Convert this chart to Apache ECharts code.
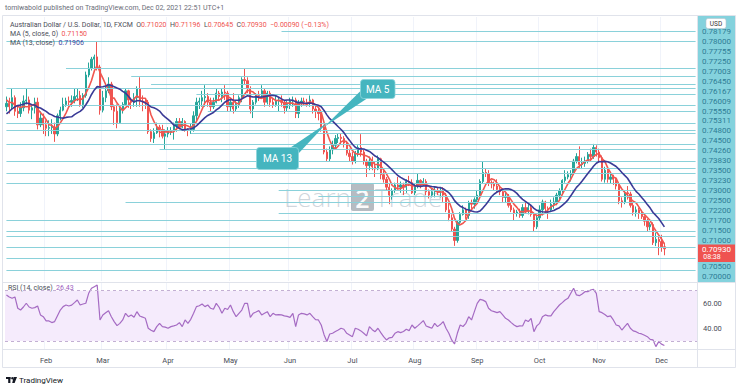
<!DOCTYPE html>
<html>
<head>
<meta charset="utf-8">
<title>AUD/USD 1D</title>
<script src="https://cdn.jsdelivr.net/npm/echarts@6/dist/echarts.min.js"></script>
<style>
html,body{margin:0;padding:0;background:#ffffff;}
#chart{width:740px;height:390px;}
</style>
</head>
<body>
<div id="chart"></div>
<script>
// ---------- data (prices in units of 0.0001 USD) ----------
const opens = [
 7720,7735,7720,7760,7700,7690,7715,7745,7750,7705,7715,7740,7640,7670,
 7640,7625,7628,7630,7600,7680,7705,7730,7745,7740,7748,7765,7770,7730,7770,7860,7890,7930,7940,7895,
 7705,7760,7790,7820,7720,7700,7650,7710,7730,7790,7750,7740,7760,7800,7745,7742,7740,7610,7580,7605,7630,7620,7590,
 7600,7610,7615,7635,7655,7630,7655,7620,7615,7620,7680,7740,7745,7760,7765,7740,7720,7740,7780,7765,7785,7780,
 7720,7740,7710,7730,7760,7840,7835,7800,7710,7740,7775,7770,7790,7740,7780,7740,7730,7745,7750,7740,7715,
 7730,7745,7750,7690,7740,7745,7740,7738,7750,7710,7700,7690,7630,7520,7490,7530,7550,7580,7585,7580,7560,7515,
 7500,7480,7515,7540,7520,7480,7460,7480,7455,7445,7490,7420,7400,7365,7330,7350,7375,7365,7375,7365,7390,7385,
 7340,7370,7395,7385,7390,7345,7330,7345,7350,7345,7350,7330,7265,7230,7180,7130,7210,7245,7265,7240,7295,7290,
 7310,7330,7390,7430,7425,7385,7380,7370,7355,7345,7320,7325,7285,7265,7250,7255,7240,7275,7260,7275,7245,7190,
 7230,7265,7300,7270,7265,7290,7300,7330,7350,7395,7410,7420,7425,7480,7500,7465,7470,7480,7510,7500,7540,
 7520,7495,7400,7440,7400,7410,7400,7370,7305,7300,7340,7335,7285,7255,7265,7250,7235,7215,7190,7200,7120,7135,
 7125,7102
];
const closes = [
 7735,7720,7760,7700,7690,7715,7745,7750,7705,7715,7740,7640,7670,7640,
 7625,7628,7630,7600,7680,7705,7730,7745,7740,7748,7765,7770,7730,7770,7860,7890,7930,7940,7895,7705,
 7760,7790,7820,7720,7700,7650,7710,7730,7790,7750,7740,7760,7800,7745,7742,7740,7610,7580,7605,7630,7620,7590,7600,
 7610,7615,7635,7655,7630,7655,7620,7615,7620,7680,7740,7745,7760,7765,7740,7720,7740,7780,7765,7785,7780,7720,
 7740,7710,7730,7760,7840,7835,7800,7710,7740,7775,7770,7790,7740,7780,7740,7730,7745,7750,7740,7715,7730,
 7745,7750,7690,7740,7745,7740,7738,7750,7710,7700,7690,7630,7520,7490,7530,7550,7580,7585,7580,7560,7515,7500,
 7480,7515,7540,7520,7480,7460,7480,7455,7445,7490,7420,7400,7365,7330,7350,7375,7365,7375,7365,7390,7385,7340,
 7370,7395,7385,7390,7345,7330,7345,7350,7345,7350,7330,7265,7230,7180,7130,7210,7245,7265,7240,7295,7290,7310,
 7330,7390,7430,7425,7385,7380,7370,7355,7345,7320,7325,7285,7265,7250,7255,7240,7275,7260,7275,7245,7190,7230,
 7265,7300,7270,7265,7290,7300,7330,7350,7395,7410,7420,7425,7480,7500,7465,7470,7480,7510,7500,7540,7520,
 7495,7400,7440,7400,7410,7400,7370,7305,7300,7340,7335,7285,7255,7265,7250,7235,7215,7190,7200,7120,7135,7125,
 7102,7093
];
const lows = [
 7700,7690,7710,7680,7670,7675,7700,7730,7690,7665,7690,7620,7630,7600,
 7590,7590,7600,7565,7590,7660,7700,7720,7720,7720,7735,7745,7720,7715,7760,7850,7880,7890,7880,7685,
 7695,7740,7780,7705,7640,7625,7645,7690,7725,7715,7710,7720,7720,7720,7700,7710,7600,7565,7560,7600,7585,7580,7530,
 7585,7595,7575,7610,7620,7625,7610,7590,7600,7610,7660,7710,7720,7720,7720,7700,7710,7735,7745,7740,7750,7700,
 7700,7690,7700,7715,7740,7820,7780,7690,7670,7730,7745,7760,7720,7730,7720,7715,7720,7700,7720,7690,7700,
 7710,7720,7670,7670,7720,7725,7720,7720,7690,7670,7660,7610,7510,7480,7477,7510,7535,7560,7555,7540,7505,7480,
 7465,7470,7500,7500,7465,7410,7440,7440,7410,7440,7400,7385,7350,7290,7310,7340,7355,7340,7330,7340,7370,7335,
 7330,7360,7360,7370,7330,7315,7320,7320,7330,7320,7300,7255,7215,7170,7106,7120,7195,7240,7225,7225,7270,7270,
 7300,7320,7380,7410,7370,7360,7350,7340,7330,7300,7295,7275,7255,7220,7235,7230,7230,7250,7245,7235,7170,7180,
 7215,7240,7250,7225,7255,7270,7285,7310,7340,7385,7400,7390,7420,7470,7450,7445,7455,7470,7480,7490,7500,
 7475,7390,7385,7385,7380,7375,7355,7290,7275,7290,7310,7275,7240,7235,7225,7225,7195,7170,7175,7110,7105,7065,
 7080,7064.5
];
const highs = [
 7765,7760,7800,7770,7720,7740,7770,7800,7765,7730,7760,7760,7700,7690,
 7660,7660,7665,7650,7690,7720,7760,7760,7765,7770,7800,7800,7790,7780,7875,7915,7940,7950,8007,7905,
 7790,7810,7850,7830,7730,7730,7725,7740,7800,7795,7760,7780,7810,7850,7770,7755,7750,7620,7625,7650,7640,7640,7620,
 7630,7630,7650,7670,7670,7670,7660,7625,7645,7700,7760,7760,7790,7815,7780,7760,7760,7800,7790,7800,7815,7790,
 7760,7780,7745,7770,7850,7891,7850,7810,7750,7780,7790,7815,7800,7790,7790,7760,7770,7760,7770,7750,7745,
 7760,7765,7760,7750,7760,7760,7755,7770,7755,7730,7720,7705,7640,7535,7545,7570,7595,7600,7600,7590,7570,7535,
 7520,7525,7550,7599,7530,7490,7500,7500,7480,7505,7495,7440,7410,7380,7360,7385,7410,7390,7385,7400,7415,7400,
 7380,7425,7400,7405,7400,7355,7360,7365,7365,7365,7365,7340,7295,7245,7190,7220,7255,7285,7275,7305,7310,7320,
 7350,7400,7478,7445,7440,7395,7390,7400,7370,7360,7340,7335,7300,7275,7265,7270,7290,7295,7290,7285,7250,7240,
 7285,7310,7305,7280,7310,7320,7340,7360,7400,7440,7435,7440,7490,7515,7545,7495,7500,7520,7535,7556,7550,
 7535,7505,7455,7450,7430,7420,7405,7385,7320,7350,7370,7345,7295,7280,7275,7265,7240,7225,7210,7210,7165,7150,
 7155,7119.6
];
// closes of the 12 sessions before the first visible bar (feed the moving averages)
const warmupCloses = [7580,7600,7590,7620,7680,7700,7680,7740,7780,7760,7760,7720];
const rsiValues = [
 66.6,65,64,65,56,54.6,57,60,57,56,
 56.5,57.8,50.7,49.3,46,45.9,44.6,45.4,50,54.6,
 57.3,58.6,57.8,58.5,60.5,62.6,58.6,59.4,60,67.9,
 71.9,73.2,74.5,46.7,50.7,52.5,54.1,49.3,45.4,42.2,
 44,46.7,52,49.3,50.7,48.8,53.3,49.9,49,48,
 40.1,38.5,37.4,41.4,44,41.4,41,40.1,41.4,42,
 42.7,44.6,41.4,46.7,44,47.2,52,57.3,58,59.4,
 57.3,58.6,56,55.2,59.9,56.8,52,56,55,58.6,
 53.3,49.3,52,54.6,59.9,59.9,48.8,52,53,54.1,
 50.7,52,53.3,49.3,52,50.7,51,50.7,49.9,49.5,
 48.8,52,41.4,50.7,52,51.5,50.7,52,49.3,47,
 46.7,42.7,35,29.5,35.5,36.1,37.5,38.7,40.1,39.3,
 36.1,34.8,33.4,40.1,39.3,38,36.1,34,41.4,39,
 37.4,40.1,36.6,33.4,30.8,32.5,32.9,36.1,37.4,36.6,
 37.5,39.3,38.2,42.7,40.1,42,44,46.2,41.9,41,
 40.1,44,41.4,43,45.4,40.1,36.1,30.8,27.6,36.1,
 42.7,41.5,44,49.3,46.7,53.3,59.9,63.1,62.5,61.3,
 56,54,53.3,52.5,53.3,50.7,48,46.7,44.6,42.7,
 41.4,42,41.9,46.7,45.4,48,37.4,42,44,49.3,
 50.7,50,49.9,53.3,56,58.6,60.5,62.6,63.9,67.9,
 71.9,66.6,66,67.4,69.2,69.2,70.5,71.1,67.9,53.3,
 52.5,51,49.3,49.9,46.7,42.7,42,38.7,41.4,44,
 40.1,38,37.4,36.1,35.6,34.5,33.4,31.3,30.8,25.5,
 29.5,27.5,26.43
];
const monthTicks  = ['2021-02-01','2021-03-01','2021-04-01','2021-05-03','2021-06-01','2021-07-01','2021-08-02','2021-09-01','2021-10-01','2021-11-01','2021-12-01'];
const monthLabels = ['Feb','Mar','Apr','May','Jun','Jul','Aug','Sep','Oct','Nov','Dec'];
// horizontal levels drawn by the author (price, first date)
const levelPrices = [8051,8007,7890,7853,7817.9,7800,7775.5,7725,7700.3,7645,7616.7,7600.9,7555,7531.1,7480,7450,7426,7383,7350,7323,7300,7250,7220,7170,7150,7100,7050,7000];
const levelStartDates = ['2021-05-27','2021-01-12','2021-02-10','2021-03-15','2021-03-24','2021-01-12','2021-04-15','2021-02-09','2021-04-21','2021-01-12','2021-01-12','2021-04-13','2021-01-12','2021-03-29','2021-01-12','2021-04-01','2021-01-12','2021-01-12','2021-05-26','2021-06-15','2021-03-11','2021-05-26','2021-01-12','2021-01-12','2021-01-12','2021-01-12','2021-01-12','2021-01-12'];
const scaleLabels = ['0.78179','0.78000','0.77755','0.77250','0.77003','0.76450','0.76167','0.76009','0.75550','0.75311','0.74800','0.74500','0.74260','0.73830','0.73500','0.73230','0.73000','0.72500','0.72200','0.71700','0.71500','0.71000'];
const lowerScaleLabels = ['0.70500','0.70000'];
const lastPriceLabel = '0.70930';
const countdownLabel = '08:38';
const rsiTickValues = [40, 60];
const PAD_BARS = 11;

// ---------- helpers ----------
[opens, lows, highs, rsiValues].forEach((a, k) => {
  if (a.length !== closes.length) throw new Error('length mismatch in array ' + k + ': ' + a.length + ' vs ' + closes.length);
});
if (levelPrices.length !== levelStartDates.length) throw new Error('levels mismatch');

function tradingDays(n) {
  const out = [];
  const d = new Date(Date.UTC(2021, 0, 12));
  while (out.length < n) {
    const wd = d.getUTCDay();
    if (wd !== 0 && wd !== 6) out.push(d.toISOString().slice(0, 10));
    d.setUTCDate(d.getUTCDate() + 1);
  }
  return out;
}
const dates = tradingDays(closes.length + PAD_BARS);
const P = v => v / 10000;

function sma(n) {
  const all = warmupCloses.concat(closes);
  const off = warmupCloses.length;
  return closes.map((_, i) => {
    let s = 0;
    for (let k = 0; k < n; k++) s += all[off + i - k];
    return +(P(s / n)).toFixed(5);
  });
}
const candles = closes.map((c, i) => [P(opens[i]), P(c), P(lows[i]), P(highs[i])]);
const ma5 = sma(5);
const ma13 = sma(13);
const isMonthTick = (idx, val) => monthTicks.indexOf(val) >= 0;

const FONT = 'Roboto, "Liberation Sans", sans-serif';
const TEAL_LINE = '#8ad1da';
const SCALE_BG = '#84d2dd';
const SCALE_TXT = '#2f7d96';
const UP = '#26a69a', DOWN = '#ef5350';

// ---------- graphics (texts, annotation boxes, price scale) ----------
const g = [];
function txt(x, y, text, opt) {
  g.push(Object.assign({type: 'text', x: x, y: y, silent: true, z: 100,
    style: Object.assign({text: text, font: '7px ' + FONT, fill: '#555', textVerticalAlign: 'middle', textAlign: 'left'}, opt || {})}));
}
// outer frame and separators
g.push({type: 'rect', z: 90, silent: true, shape: {x: 2.5, y: 15.5, width: 733, height: 352}, style: {fill: 'none', stroke: '#e0e3eb', lineWidth: 1}});
g.push({type: 'line', z: 90, silent: true, shape: {x1: 2.5, y1: 282.5, x2: 735.5, y2: 282.5}, style: {stroke: '#e0e3eb', lineWidth: 1}});
g.push({type: 'line', z: 90, silent: true, shape: {x1: 2.5, y1: 349.5, x2: 735.5, y2: 349.5}, style: {stroke: '#e0e3eb', lineWidth: 1}});
g.push({type: 'line', z: 90, silent: true, shape: {x1: 697.5, y1: 15.5, x2: 697.5, y2: 367.5}, style: {stroke: '#e0e3eb', lineWidth: 1}});

// header
txt(5, 8, 'tomiwabold published on TradingView.com, Dec 02, 2021 22:51 UTC+1', {fill: '#6a6d78'});
// legends
g.push({type: 'text', x: 10, y: 24.5, z: 100, silent: true, style: {
  text: '{t|Australian Dollar / U.S. Dollar, 1D, FXCM}  {t|O}{r|0.71020}  {t|H}{r|0.71196}  {t|L}{r|0.70645}  {t|C}{r|0.70930}  {r|\u22120.00090 (\u22120.13%)}',
  textVerticalAlign: 'middle', font: '7px ' + FONT,
  rich: {t: {fill: '#4a4d57', font: '7px ' + FONT}, r: {fill: DOWN, font: '7px ' + FONT}}}});
g.push({type: 'text', x: 10, y: 33.5, z: 100, silent: true, style: {
  text: '{t|MA (5, close, 0)}  {r|0.71150}', textVerticalAlign: 'middle', font: '7px ' + FONT,
  rich: {t: {fill: '#4a4d57', font: '7px ' + FONT}, r: {fill: DOWN, font: '7px ' + FONT}}}});
g.push({type: 'text', x: 10, y: 43, z: 100, silent: true, style: {
  text: '{t|MA (13, close)}  {b|0.71906}', textVerticalAlign: 'middle', font: '7px ' + FONT,
  rich: {t: {fill: '#4a4d57', font: '7px ' + FONT}, b: {fill: '#3b3f9c', font: '7px ' + FONT}}}});
g.push({type: 'text', x: 8, y: 287.5, z: 100, silent: true, style: {
  text: '{t|RSI (14, close)}  {p|26.43}', textVerticalAlign: 'middle', font: '7px ' + FONT,
  rich: {t: {fill: '#4a4d57', font: '7px ' + FONT}, p: {fill: '#9c5ec0', font: '7px ' + FONT}}}});

// price scale column
g.push({type: 'rect', z: 95, silent: true, shape: {x: 698, y: 16, width: 37, height: 266}, style: {fill: SCALE_BG}});
g.push({type: 'rect', z: 101, silent: true, shape: {x: 706, y: 18.5, width: 20, height: 10, r: 2}, style: {fill: '#ffffff', stroke: '#b8c4cc', lineWidth: 0.6}});
g.push({type: 'text', z: 102, silent: true, x: 716, y: 23.7, style: {text: 'USD', font: '6.5px ' + FONT, fill: '#333', textAlign: 'center', textVerticalAlign: 'middle'}});
scaleLabels.forEach((t, k) => txt(716.5, 31.7 + k * 9.92, t, {fill: SCALE_TXT, textAlign: 'center', font: '8px ' + FONT}));
txt(716.5, 266.7, lowerScaleLabels[0], {fill: SCALE_TXT, textAlign: 'center', font: '8px ' + FONT});
txt(716.5, 276.3, lowerScaleLabels[1], {fill: SCALE_TXT, textAlign: 'center', font: '8px ' + FONT});
g.push({type: 'rect', z: 101, silent: true, shape: {x: 698, y: 244.5, width: 37, height: 17.5}, style: {fill: DOWN}});
g.push({type: 'text', z: 102, silent: true, x: 716.5, y: 249.5, style: {text: lastPriceLabel, font: '8px ' + FONT, fill: '#fff', textAlign: 'center', textVerticalAlign: 'middle'}});
g.push({type: 'text', z: 102, silent: true, x: 712, y: 257.3, style: {text: countdownLabel, font: '7px ' + FONT, fill: '#fff', textAlign: 'center', textVerticalAlign: 'middle'}});

// watermark
const WM = 'rgba(140,156,170,0.42)';
g.push({type: 'text', z: 1, silent: true, x: 284, y: 197, style: {text: 'Learn', font: '300 26px "Open Sans", ' + FONT, fill: WM, textVerticalAlign: 'middle'}});
g.push({type: 'rect', z: 1, silent: true, shape: {x: 351, y: 183, width: 23, height: 28, r: 2}, style: {fill: 'rgba(110,122,134,0.5)'}});
g.push({type: 'text', z: 1, silent: true, x: 362.5, y: 197.5, style: {text: '2', font: '600 25px "Open Sans", ' + FONT, fill: 'rgba(255,255,255,0.95)', textAlign: 'center', textVerticalAlign: 'middle'}});
g.push({type: 'text', z: 1, silent: true, x: 375, y: 197, style: {text: 'Trade', font: '300 26px "Open Sans", ' + FONT, fill: WM, textVerticalAlign: 'middle'}});

// callouts
const CALL = '#45b5bf';
g.push({type: 'polygon', z: 110, silent: true, shape: {points: [[361, 90.5], [367, 98.5], [324, 127]]}, style: {fill: CALL}});
g.push({type: 'rect', z: 111, silent: true, shape: {x: 360.5, y: 79.5, width: 34.5, height: 19, r: 3}, style: {fill: CALL, stroke: '#8fd6dc', lineWidth: 0.8}});
g.push({type: 'text', z: 112, silent: true, x: 377.7, y: 89.3, style: {text: 'MA 5', font: '10px ' + FONT, fill: '#ffffff', textAlign: 'center', textVerticalAlign: 'middle'}});
g.push({type: 'polygon', z: 110, silent: true, shape: {points: [[290.5, 147.5], [298.5, 153.5], [327, 123]]}, style: {fill: CALL}});
g.push({type: 'rect', z: 111, silent: true, shape: {x: 256.5, y: 147.5, width: 42, height: 22, r: 3}, style: {fill: CALL, stroke: '#8fd6dc', lineWidth: 0.8}});
g.push({type: 'text', z: 112, silent: true, x: 277.5, y: 158.7, style: {text: 'MA 13', font: '10px ' + FONT, fill: '#ffffff', textAlign: 'center', textVerticalAlign: 'middle'}});

// TradingView logo + text
g.push({type: 'rect', z: 100, silent: true, shape: {x: 6, y: 377, width: 4.5, height: 2}, style: {fill: '#131722'}});
g.push({type: 'rect', z: 100, silent: true, shape: {x: 8.2, y: 377, width: 2.2, height: 6}, style: {fill: '#131722'}});
g.push({type: 'circle', z: 100, silent: true, shape: {cx: 12.3, cy: 378.3, r: 1.2}, style: {fill: '#131722'}});
g.push({type: 'polygon', z: 100, silent: true, shape: {points: [[13.6, 377], [17, 377], [14.6, 383], [12.2, 383]]}, style: {fill: '#131722'}});
txt(19, 380, 'TradingView', {fill: '#131722', font: '8px ' + FONT});

// ---------- chart ----------
const chart = echarts.init(document.getElementById('chart'), null, {renderer: 'svg'});
const lastDate = dates[dates.length - 1];
chart.setOption({
  animation: false,
  backgroundColor: '#ffffff',
  textStyle: {fontFamily: FONT},
  grid: [
    {left: 5, right: 43, top: 17, height: 264},
    {left: 5, right: 43, top: 283, height: 66}
  ],
  xAxis: [
    {type: 'category', gridIndex: 0, data: dates, boundaryGap: true,
     axisLine: {show: false}, axisTick: {show: false}, axisLabel: {show: false},
     splitLine: {show: true, interval: isMonthTick, lineStyle: {color: '#f0f3fa', width: 1}}},
    {type: 'category', gridIndex: 1, data: dates, boundaryGap: true,
     axisLine: {show: false}, axisTick: {show: false},
     axisLabel: {show: true, interval: isMonthTick, margin: 7, color: '#4a4d57', fontSize: 7.5, fontFamily: FONT,
       formatter: v => monthLabels[monthTicks.indexOf(v)] || ''},
     splitLine: {show: true, interval: isMonthTick, lineStyle: {color: '#f0f3fa', width: 1}}}
  ],
  yAxis: [
    {type: 'value', gridIndex: 0, position: 'right', min: 0.6951, max: 0.8116, scale: true,
     axisLine: {show: false}, axisTick: {show: false}, axisLabel: {show: false}, splitLine: {show: false}},
    {type: 'value', gridIndex: 1, position: 'right', min: 23.6, max: 76.1,
     axisLine: {show: false}, axisTick: {show: false}, splitLine: {show: false},
     axisLabel: {show: true, customValues: rsiTickValues, margin: 6, color: '#4a4d57', fontSize: 7.5, fontFamily: FONT,
       formatter: v => v.toFixed(2)}}
  ],
  series: [
    {type: 'candlestick', name: 'AUDUSD', xAxisIndex: 0, yAxisIndex: 0, data: candles, barWidth: 1.8,
     itemStyle: {color: UP, color0: DOWN, borderColor: UP, borderColor0: DOWN, borderWidth: 1},
     markLine: {silent: true, symbol: ['none', 'none'], label: {show: false}, animation: false,
       lineStyle: {color: TEAL_LINE, width: 1.2, type: 'solid'},
       emphasis: {disabled: true},
       data: levelPrices.map((p, k) => [{coord: [levelStartDates[k], P(p)]}, {coord: [lastDate, P(p)]}])},
     z: 3},
    {type: 'line', name: 'MA 5', xAxisIndex: 0, yAxisIndex: 0, data: ma5, showSymbol: false, symbol: 'none',
     lineStyle: {color: '#f0564f', width: 1.6}, z: 4},
    {type: 'line', name: 'MA 13', xAxisIndex: 0, yAxisIndex: 0, data: ma13, showSymbol: false, symbol: 'none',
     lineStyle: {color: '#3a3a96', width: 1.6}, z: 5},
    {type: 'line', name: 'RSI', xAxisIndex: 1, yAxisIndex: 1, data: rsiValues, showSymbol: false, symbol: 'none',
     lineStyle: {color: '#a56bc3', width: 1.2}, z: 4,
     markArea: {silent: true, itemStyle: {color: '#f5ebfc'}, data: [[{yAxis: 30}, {yAxis: 70}]]},
     markLine: {silent: true, symbol: ['none', 'none'], label: {show: false},
       lineStyle: {color: '#c3b0d3', width: 1, type: [3, 3]},
       data: [{yAxis: 70}, {yAxis: 30}]}}
  ],
  graphic: {elements: g}
});
</script>
</body>
</html>
